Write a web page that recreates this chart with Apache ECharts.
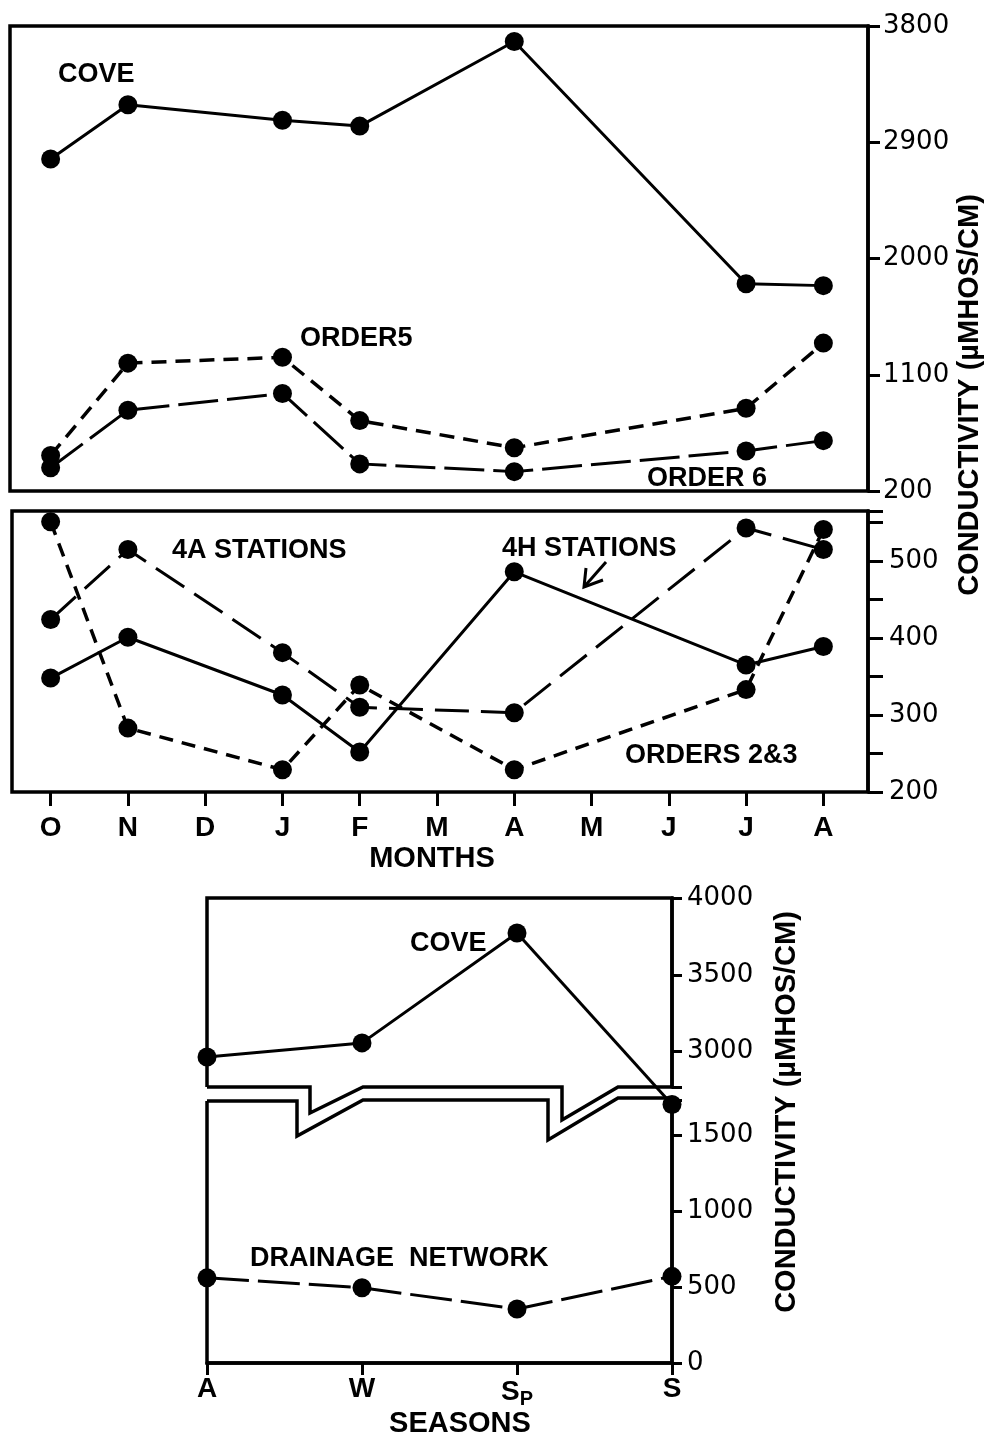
<!DOCTYPE html>
<html>
<head>
<meta charset="utf-8">
<script src="https://cdn.jsdelivr.net/npm/echarts@6/dist/echarts.min.js"></script>
<style>
  html, body { margin: 0; padding: 0; background: #fff; }
  #chart { width: 987px; height: 1440px; }
</style>
</head>
<body>
<div id="chart"></div>
<script>
// ---------------- DATA ----------------
const months = ['O', 'N', 'D', 'J', 'F', 'M', 'A', 'M', 'J', 'J', 'A'];
// top panel (µmhos/cm)
const coveMonthly = [2770, 3190, null, 3070, 3025, null, 3680, null, null, 1805, 1790];
const order5      = [475, 1190, null, 1235, 745, null, 535, null, null, 840, 1345];
const order6      = [380, 825, null, 955, 410, null, 350, null, null, 510, 590];
// middle panel
const stations4A  = [424, 515, null, 381, 310, null, 303, null, null, 543, 515];
const stations4H  = [348, 401, null, 326, 252, null, 486, null, null, 365, 389];
const orders23    = [551, 283, null, 229, 339, null, 229, null, null, 333, 541];
// bottom panel
const seasons      = ['A', 'W', 'SP', 'S'];
const coveSeasonal = [2965, 3057, 3772, 1700];
const drainage     = [560, 495, 355, 570];

// axis ranges
const TOP_MIN = 200, TOP_MAX = 3800, TOP_STEP = 900;
const MID_MIN = 200, MID_MAX = 565, MID_STEP = 50;
const BU_MIN = 2770, BU_MAX = 4000;
const BL_MIN = 0, BL_MAX = 1730;

// ---------------- LAYOUT ----------------
const TXT = 'Liberation Sans';
const NUM = 'DejaVu Sans';
const TOPF = { left: 10, top: 26, width: 858, height: 465 };
const TOPD = { left: 12, top: 26, width: 850, height: 465 };
const MIDF = { left: 12, top: 511, width: 856, height: 281 };
const MIDD = { left: 12, top: 511, width: 850, height: 281 };
const BU = { left: 207, top: 898, width: 465, height: 189 };
const BL = { left: 207, top: 1100, width: 465, height: 263 };

const chart = echarts.init(document.getElementById('chart'), null, { renderer: 'canvas' });

function hiddenX(type, extra) {
  return Object.assign({ type: type, show: false }, extra || {});
}
function lineSeries(name, data, idx, dash, width) {
  return {
    name: name, type: 'line', xAxisIndex: idx, yAxisIndex: idx, data: data,
    connectNulls: true, symbol: 'circle', symbolSize: 19, showAllSymbol: true,
    lineStyle: { color: '#000', width: width || 3, type: dash },
    itemStyle: { color: '#000' }, silent: true, z: 3
  };
}
const rightAxisBase = (min, max, tickLen) => ({
  type: 'value', position: 'right', min: min, max: max,
  axisLine: { show: true, onZero: false, lineStyle: { color: '#000', width: 3.5 } },
  axisTick: { show: true, inside: false, length: tickLen, lineStyle: { color: '#000', width: 3 } },
  splitLine: { show: false },
  axisLabel: { color: '#000', fontFamily: NUM, fontSize: 26, margin: 15, padding: [0, 0, 12, 0],
    formatter: v => String(v) }
});

const coveUpper = coveSeasonal.map(v => (v >= BU_MIN ? v : null));
const coveLower = coveSeasonal.map(v => (v <= BL_MAX ? v : null));

// bottom panel outline with axis break
const upperOutline = [[207, 1087], [207, 898], [672, 898], [672, 1087], [618, 1087], [562, 1120], [562, 1087],
  [363, 1087], [310, 1113], [310, 1087], [207, 1087]];
const lowerOutline = [[207, 1101], [297, 1101], [297, 1136], [363, 1100], [548, 1100], [548, 1140], [618, 1098],
  [672, 1098], [672, 1363], [207, 1363], [207, 1101]];

function label(text, x, y, opts) {
  return {
    type: 'text', x: x, y: y, z: 20, silent: true,
    style: Object.assign({ text: text, fill: '#000', fontFamily: TXT, fontWeight: 'bold', fontSize: 27,
      align: 'left', verticalAlign: 'middle' }, opts || {})
  };
}

const option = {
  backgroundColor: '#fff',
  animation: false,
  grid: [
    Object.assign({ show: true, borderColor: '#000', borderWidth: 3.5, backgroundColor: 'transparent' }, TOPF),
    Object.assign({}, TOPD),
    Object.assign({ show: true, borderColor: '#000', borderWidth: 3.5, backgroundColor: 'transparent' }, MIDF),
    Object.assign({}, MIDD),
    Object.assign({}, BU),
    Object.assign({}, BL)
  ],
  xAxis: [
    hiddenX('value', { gridIndex: 0, min: 0, max: 1 }),
    hiddenX('category', { gridIndex: 1, data: months, boundaryGap: true }),
    hiddenX('value', { gridIndex: 2, min: 0, max: 1 }),
    {
      type: 'category', gridIndex: 3, data: months, boundaryGap: true, position: 'bottom',
      axisLine: { show: false, onZero: false },
      axisTick: { show: true, alignWithLabel: true, length: 14, lineStyle: { color: '#000', width: 3 } },
      axisLabel: { color: '#000', fontFamily: TXT, fontWeight: 'bold', fontSize: 28, margin: 22, interval: 0 }
    },
    hiddenX('category', { gridIndex: 4, data: seasons, boundaryGap: false }),
    {
      type: 'category', gridIndex: 5, data: seasons, boundaryGap: false, position: 'bottom',
      axisLine: { show: true, onZero: false, lineStyle: { color: '#000', width: 3.5 } },
      axisTick: { show: true, length: 12, lineStyle: { color: '#000', width: 3 } },
      axisLabel: {
        color: '#000', fontFamily: TXT, fontWeight: 'bold', fontSize: 28, margin: 12, interval: 0,
        formatter: v => (v === 'SP' ? '{s|S}{p|P}' : v),
        rich: {
          s: { fontFamily: TXT, fontWeight: 'bold', fontSize: 28, color: '#000' },
          p: { fontFamily: TXT, fontWeight: 'bold', fontSize: 20, color: '#000', padding: [14, 0, 0, 0] }
        }
      }
    }
  ],
  yAxis: [
    Object.assign(rightAxisBase(TOP_MIN, TOP_MAX, 12), { gridIndex: 0, interval: TOP_STEP }),
    { type: 'value', gridIndex: 1, min: TOP_MIN, max: TOP_MAX, show: false },
    (function () {
      const a = rightAxisBase(MID_MIN, MID_MAX, 15);
      a.gridIndex = 2; a.interval = MID_STEP;
      a.axisLabel.margin = 21;
      a.axisLabel.formatter = v => (v % 100 === 0 ? String(v) : '');
      return a;
    })(),
    { type: 'value', gridIndex: 3, min: MID_MIN, max: MID_MAX, show: false },
    (function () {
      const a = rightAxisBase(BU_MIN, BU_MAX, 10);
      a.gridIndex = 4; a.splitNumber = 2; a.minInterval = 500; a.maxInterval = 500;
      a.axisLabel.padding = [0, 0, 6, 0];
      a.axisLabel.formatter = v => (v % 500 === 0 ? String(v) : '');
      return a;
    })(),
    (function () {
      const a = rightAxisBase(BL_MIN, BL_MAX, 10);
      a.gridIndex = 5; a.splitNumber = 3; a.minInterval = 500; a.maxInterval = 500;
      a.axisLabel.padding = [0, 0, 6, 0];
      a.axisLabel.formatter = v => (v % 500 === 0 ? String(v) : '');
      return a;
    })()
  ],
  series: [
    lineSeries('Cove', coveMonthly, 1, 'solid'),
    lineSeries('Order 5', order5, 1, [15, 9], 3.5),
    lineSeries('Order 6', order6, 1, [40, 9]),
    lineSeries('4A stations', stations4A, 3, [34, 12]),
    lineSeries('4H stations', stations4H, 3, 'solid'),
    lineSeries('Orders 2&3', orders23, 3, [14, 9], 3.5),
    lineSeries('Cove (seasonal)', coveUpper, 4, 'solid'),
    lineSeries('Cove (seasonal, low)', coveLower, 5, 'solid'),
    lineSeries('Drainage network', drainage, 5, [42, 9])
  ],
  graphic: { elements: [
    { type: 'polyline', z: 15, silent: true, shape: { points: upperOutline },
      style: { stroke: '#000', lineWidth: 3.5, fill: null, lineJoin: 'miter' } },
    { type: 'polyline', z: 15, silent: true, shape: { points: lowerOutline },
      style: { stroke: '#000', lineWidth: 3.5, fill: null, lineJoin: 'miter' } },
    label('COVE', 58, 75),
    label('ORDER5', 300, 339),
    label('ORDER 6', 647, 479),
    label('4A STATIONS', 172, 551),
    label('4H STATIONS', 502, 549),
    label('ORDERS 2&3', 625, 756),
    label('MONTHS', 432, 859, { align: 'center', fontSize: 29 }),
    label('COVE', 410, 944),
    label('DRAINAGE  NETWORK', 250, 1259),
    label('SEASONS', 460, 1424, { align: 'center', fontSize: 29 }),
    { type: 'polyline', z: 20, silent: true, shape: { points: [[606, 562], [584, 587]] },
      style: { stroke: '#000', lineWidth: 3, fill: null } },
    { type: 'polyline', z: 20, silent: true, shape: { points: [[586, 568], [584, 587], [603, 580]] },
      style: { stroke: '#000', lineWidth: 3, fill: null } },
    { type: 'text', x: 970, y: 395, rotation: Math.PI / 2, z: 20, silent: true,
      style: { text: 'CONDUCTIVITY (µMHOS/CM)', fill: '#000', fontFamily: TXT, fontWeight: 'bold', fontSize: 29,
        align: 'center', verticalAlign: 'middle' } },
    { type: 'text', x: 787, y: 1112, rotation: Math.PI / 2, z: 20, silent: true,
      style: { text: 'CONDUCTIVITY (µMHOS/CM)', fill: '#000', fontFamily: TXT, fontWeight: 'bold', fontSize: 29,
        align: 'center', verticalAlign: 'middle' } }
  ] }
};

chart.setOption(option);

// connector for the cove line across the axis break (computed through the axes' scales)
const links = [];
for (let i = 0; i < seasons.length - 1; i++) {
  if (coveUpper[i] != null && coveUpper[i + 1] == null && coveLower[i + 1] != null) {
    const p1 = chart.convertToPixel({ gridIndex: 4 }, [i, coveUpper[i]]);
    const p2 = chart.convertToPixel({ gridIndex: 5 }, [i + 1, coveLower[i + 1]]);
    links.push({ id: 'coveLink' + i, type: 'line', z: 4, silent: true,
      shape: { x1: p1[0], y1: p1[1], x2: p2[0], y2: p2[1] },
      style: { stroke: '#000', lineWidth: 3 } });
  }
}
if (links.length) chart.setOption({ graphic: { elements: links } });
</script>
</body>
</html>
